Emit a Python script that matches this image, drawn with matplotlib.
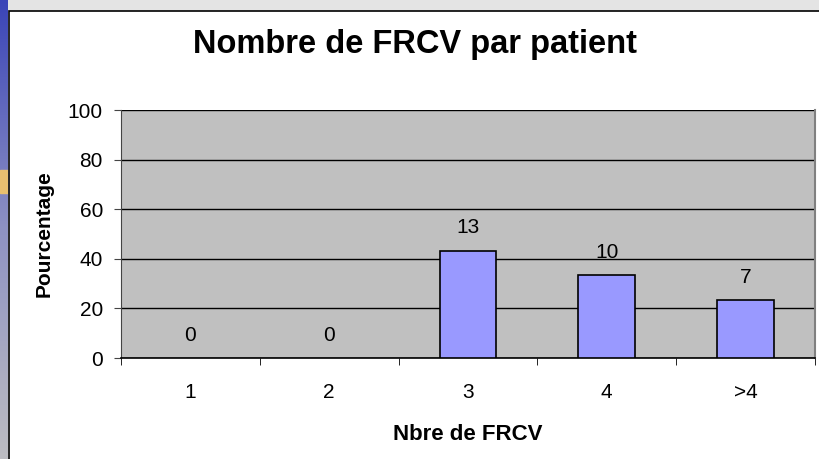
import numpy as np
import matplotlib.pyplot as plt
from matplotlib.patches import Rectangle
from matplotlib.colors import LinearSegmentedColormap

plt.rcParams['font.family'] = ['Liberation Sans', 'DejaVu Sans']

categories = ["1", "2", "3", "4", ">4"]
counts = [0, 0, 13, 10, 7]
total = 30
pourcentages = [c / total * 100 for c in counts]

fig = plt.figure(figsize=(8.19, 4.59), dpi=100)
W, H = 819, 459

# fond de diapo : bande grise en haut, cadre blanc du graphique
fond = fig.add_axes([0, 0, 1, 1], zorder=0)
fond.set_xlim(0, W)
fond.set_ylim(H, 0)
fond.add_patch(Rectangle((0, 0), W, 11, facecolor="#e4e4e4", edgecolor="none"))
fond.add_patch(Rectangle((9, 11), W, H, facecolor="white", edgecolor="black", linewidth=1.2))
fond.set_axis_off()

# bande bleue a gauche
strip = fig.add_axes([0, 0, 8 / W, 1], zorder=1)
grad = np.linspace(0, 1, 256).reshape(-1, 1)
cmap = LinearSegmentedColormap.from_list("slide", ["#3a44b8", "#8e92c4", "#bdbdc2"])
strip.imshow(grad, aspect="auto", cmap=cmap, extent=[0, 1, 0, 1], origin="upper")
strip.add_patch(Rectangle((0, 0.58), 1, 0.05, color="#e8c070"))
strip.set_axis_off()

ax = fig.add_axes([121 / W, (H - 358) / H, (815 - 121) / W, (358 - 110) / H], zorder=2)
ax.set_facecolor("#c0c0c0")

x = np.arange(len(categories))
lw = [1.2 if p > 0 else 0 for p in pourcentages]
ax.bar(x, pourcentages, width=0.41, color="#9999ff", edgecolor="black", linewidth=lw, zorder=3)

for xi, p, c in zip(x, pourcentages, counts):
    ax.annotate(str(c), (xi, p), xytext=(0, 12.5), textcoords="offset points",
                ha="center", va="baseline", fontsize=15, zorder=4)

ax.set_xlim(-0.5, len(categories) - 0.5)
ax.set_ylim(0, 100)
ax.set_yticks([0, 20, 40, 60, 80, 100])
ax.yaxis.grid(True, color="black", linewidth=1, zorder=1)
ax.set_axisbelow(True)

ax.set_xticks(x)
ax.set_xticklabels(categories, fontsize=15)
ax.set_xticks(np.arange(-0.5, len(categories), 1), minor=True)
ax.tick_params(axis="x", which="major", length=0, pad=18)
ax.tick_params(axis="x", which="minor", length=5, direction="out", color="black")
ax.tick_params(axis="y", length=5, direction="out", labelsize=15, pad=8, color="#444444")

ax.spines["top"].set_visible(False)
ax.spines["right"].set_color("#808080")
ax.spines["right"].set_linewidth(1.5)
ax.spines["left"].set_color("#444444")
ax.spines["bottom"].set_color("black")
ax.spines["bottom"].set_linewidth(1.2)

ax.set_xlabel("Nbre de FRCV", fontsize=16, fontweight="bold", labelpad=16)
ax.set_ylabel("Pourcentage", fontsize=15, fontweight="bold", labelpad=10)

fig.text(415 / W, 1 - 45 / H, "Nombre de FRCV par patient", ha="center", va="center",
         fontsize=23.5, fontweight="bold", zorder=5)

fig.savefig("out.png", dpi=100)
